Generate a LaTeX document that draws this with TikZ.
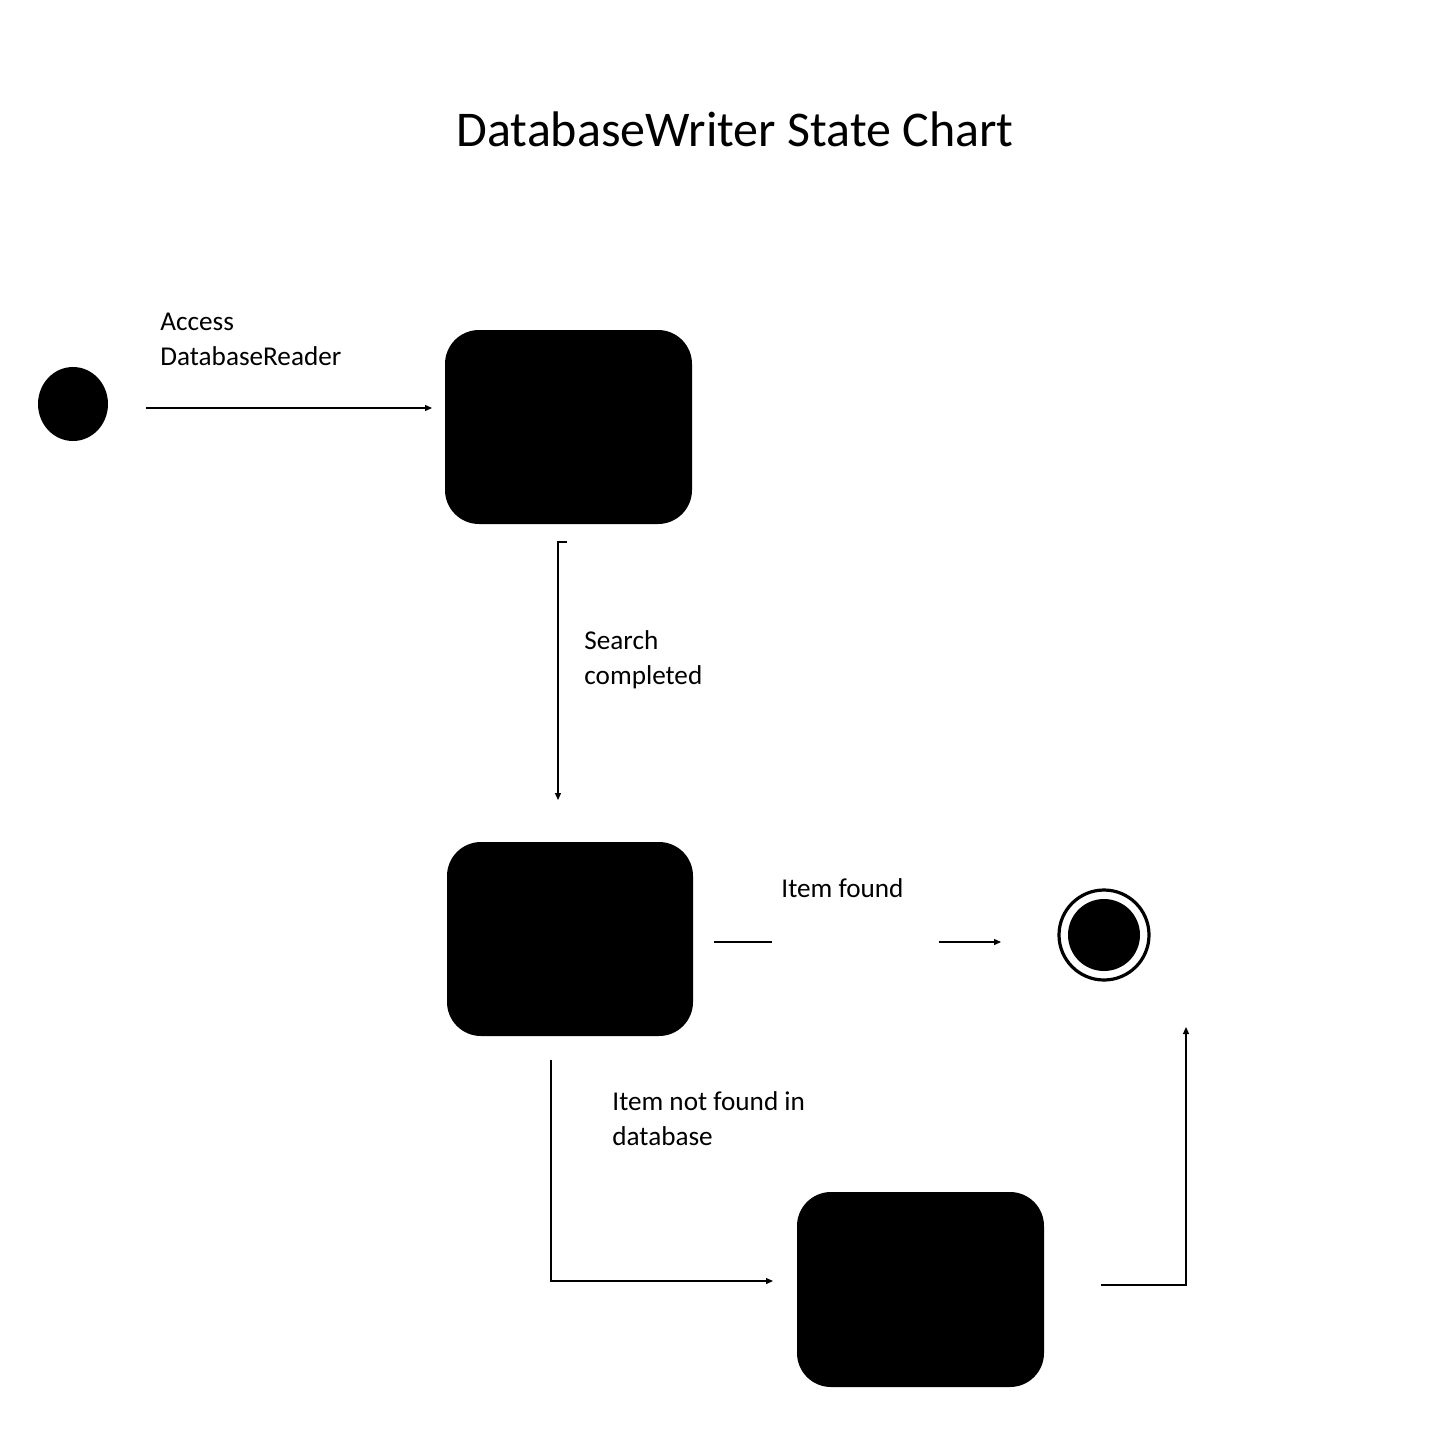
\documentclass[tikz,border=0pt]{standalone}
\usepackage{fontspec}
\setmainfont{Carlito}
\usetikzlibrary{arrows.meta}
\begin{document}
\begin{tikzpicture}[x=0.5pt,y=-0.5pt,
  state/.style={fill=black,rounded corners=17pt,draw=none},
  conn/.style={line width=0.6pt},
  arr/.style={conn,-{Triangle[length=3.5pt,width=3pt]}},
  lbl/.style={anchor=base west,inner sep=0pt,align=left,font=\fontsize{13.6pt}{17.5pt}\selectfont}]
\useasboundingbox (0,0) rectangle (1446,1440);
\node[anchor=base,inner sep=0pt,font=\fontsize{25pt}{30pt}\selectfont] (title) at (735,146) {DatabaseWriter State Chart};
% initial
\fill[black] (73,404) ellipse (35 and 37);
\coordinate (initial) at (73,404);
% states
\path[state] (445,330) rectangle (692,524);
\coordinate (s1) at (568,427);
\path[state] (447,842) rectangle (693,1036);
\coordinate (s2) at (570,939);
\path[state] (797,1192) rectangle (1044,1387);
\coordinate (s3) at (920,1289);
% final
\draw[line width=1.6pt] (1104,935) circle (45);
\fill[black] (1104,935) circle (36);
\coordinate (final) at (1104,935);
% connectors
\coordinate (a0) at (146,408); \coordinate (a1) at (432,408);
\draw[arr] (a0) -- (a1);
\coordinate (b0) at (567,542); \coordinate (b1) at (558,542); \coordinate (b2) at (558,800);
\draw[arr] (b0) -- (b1) -- (b2);
\coordinate (c0) at (714,942); \coordinate (c1) at (772,942);
\coordinate (c2) at (939,942); \coordinate (c3) at (1001,942);
\draw[conn] (c0) -- (c1);
\draw[arr] (c2) -- (c3);
\coordinate (d0) at (551,1060); \coordinate (d1) at (551,1281); \coordinate (d2) at (773,1281);
\draw[arr] (d0) -- (d1) -- (d2);
\coordinate (e0) at (1101,1285); \coordinate (e1) at (1186,1285); \coordinate (e2) at (1186,1027);
\draw[arr] (e0) -- (e1) -- (e2);
% labels
\node[lbl] (l1) at (160,365) {Access\\DatabaseReader};
\node[lbl] (l2) at (584,684) {Search\\completed};
\node[lbl] (l3) at (781,897) {Item found};
\node[lbl] (l4) at (612,1145) {Item not found in\\database};
\end{tikzpicture}
\end{document}
